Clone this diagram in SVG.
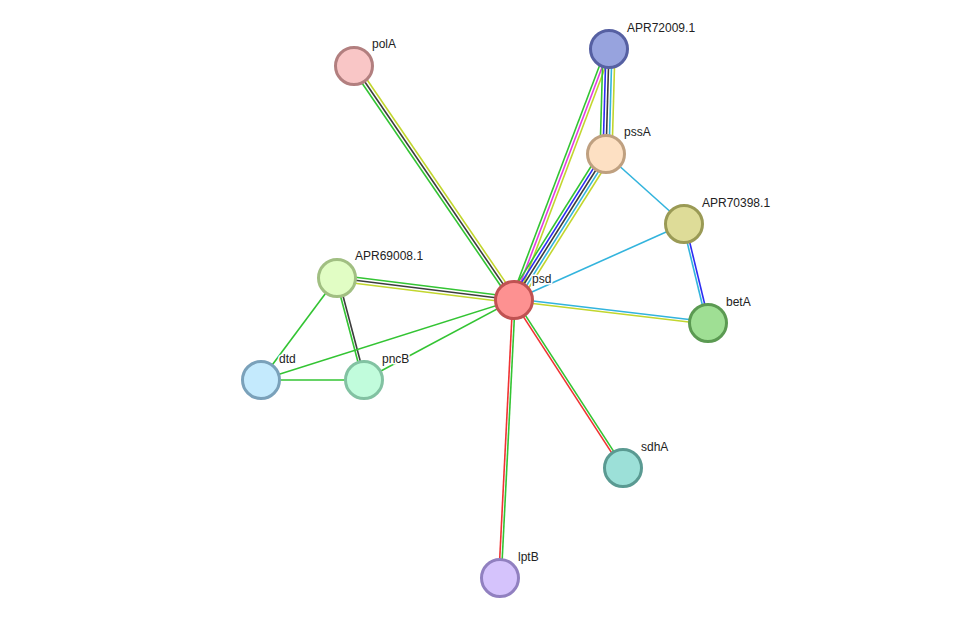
<svg xmlns="http://www.w3.org/2000/svg" width="976" height="624" viewBox="0 0 976 624">
<style>
line{stroke-width:1.6;fill:none}
.g{stroke:#33c433}.k{stroke:#3d3d3d}.y{stroke:#c2d62e}.m{stroke:#e23be2}.b{stroke:#2c2cf2}.c{stroke:#33b4dd}.r{stroke:#f03333}
circle{stroke-width:3}
text{font-family:"Liberation Sans",Arial,sans-serif;font-size:12px;fill:#222;paint-order:stroke;stroke:#fff;stroke-width:3px;stroke-linejoin:round}
</style>
<rect width="976" height="624" fill="#fff"/>
<g id="edges">
<line class="g" x1="511.52" y1="301.69" x2="351.52" y2="67.69"/>
<line class="k" x1="514" y1="300" x2="354" y2="66"/>
<line class="y" x1="516.48" y1="298.31" x2="356.48" y2="64.31"/>
<line class="g" x1="511.2" y1="298.94" x2="606.2" y2="47.94"/>
<line class="m" x1="514" y1="300" x2="609" y2="49"/>
<line class="y" x1="516.8" y1="301.06" x2="611.8" y2="50.06"/>
<line class="g" x1="508.92" y1="296.8" x2="600.92" y2="150.8"/>
<line class="b" x1="511.46" y1="298.4" x2="603.46" y2="152.4"/>
<line class="k" x1="514" y1="300" x2="606" y2="154"/>
<line class="c" x1="516.54" y1="301.6" x2="608.54" y2="155.6"/>
<line class="y" x1="519.08" y1="303.2" x2="611.08" y2="157.2"/>
<line class="g" x1="600" y1="154" x2="603" y2="49"/>
<line class="b" x1="603" y1="154" x2="606" y2="49"/>
<line class="k" x1="606" y1="154" x2="609" y2="49"/>
<line class="c" x1="609" y1="154" x2="612" y2="49"/>
<line class="y" x1="612" y1="154" x2="615" y2="49"/>
<line class="c" x1="606" y1="154" x2="684" y2="224"/>
<line class="c" x1="514" y1="300" x2="684" y2="224"/>
<line class="c" x1="682.79" y1="224.29" x2="706.79" y2="323.29"/>
<line class="b" x1="685.21" y1="223.71" x2="709.21" y2="322.71"/>
<line class="c" x1="514.15" y1="298.76" x2="708.15" y2="321.76"/>
<line class="y" x1="513.85" y1="301.24" x2="707.85" y2="324.24"/>
<line class="g" x1="514.37" y1="297.02" x2="337.37" y2="275.02"/>
<line class="k" x1="514" y1="300" x2="337" y2="278"/>
<line class="y" x1="513.63" y1="302.98" x2="336.63" y2="280.98"/>
<line class="g" x1="335.79" y1="278.32" x2="362.79" y2="380.32"/>
<line class="k" x1="338.21" y1="277.68" x2="365.21" y2="379.68"/>
<line class="g" x1="337" y1="278" x2="261" y2="380"/>
<line class="g" x1="261" y1="380" x2="364" y2="380"/>
<line class="g" x1="261" y1="380" x2="514" y2="300"/>
<line class="g" x1="364" y1="380" x2="514" y2="300"/>
<line class="r" x1="512.95" y1="300.68" x2="621.95" y2="468.68"/>
<line class="g" x1="515.05" y1="299.32" x2="624.05" y2="467.32"/>
<line class="r" x1="512.75" y1="300" x2="498.75" y2="578"/>
<line class="g" x1="515.25" y1="300" x2="501.25" y2="578"/>
</g>
<g id="polA"><circle cx="354" cy="66" r="18.5" fill="#f9c6c6" stroke="#b27f7f"/><text x="372" y="48">polA</text></g>
<g id="APR72009.1"><circle cx="609" cy="49" r="18.5" fill="#97a3de" stroke="#5660a2"/><text x="627" y="32">APR72009.1</text></g>
<g id="pssA"><circle cx="606" cy="154" r="18.5" fill="#fde0c3" stroke="#bfa080"/><text x="624" y="136">pssA</text></g>
<g id="APR70398.1"><circle cx="684" cy="224" r="18.5" fill="#dedc98" stroke="#9a9a55"/><text x="702" y="207">APR70398.1</text></g>
<g id="betA"><circle cx="708" cy="323" r="18.5" fill="#9fdf94" stroke="#5b9a52"/><text x="726" y="306">betA</text></g>
<g id="APR69008.1"><circle cx="337" cy="278" r="18.5" fill="#e1fdc4" stroke="#a1bf82"/><text x="355" y="260">APR69008.1</text></g>
<g id="psd"><circle cx="514" cy="300" r="18.5" fill="#fd9191" stroke="#c05252"/><text x="532" y="283">psd</text></g>
<g id="dtd"><circle cx="261" cy="380" r="18.5" fill="#c4eafd" stroke="#7aa1ba"/><text x="279" y="363">dtd</text></g>
<g id="pncB"><circle cx="364" cy="380" r="18.5" fill="#c1fcdc" stroke="#82c2a2"/><text x="382" y="363">pncB</text></g>
<g id="sdhA"><circle cx="623" cy="468" r="18.5" fill="#9ce0d8" stroke="#5a9a92"/><text x="641" y="451">sdhA</text></g>
<g id="lptB"><circle cx="500" cy="578" r="18.5" fill="#d5c3fc" stroke="#9180c0"/><text x="518" y="561">lptB</text></g>
</svg>
